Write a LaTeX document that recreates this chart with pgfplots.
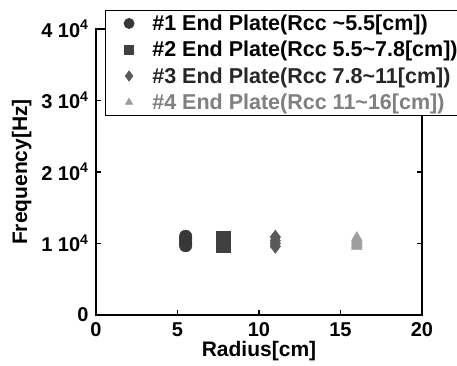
\documentclass[border=0pt]{standalone}
\usepackage{fontspec}
\setmainfont{Liberation Sans}
\usepackage{pgfplots}
\pgfplotsset{compat=1.18}
\definecolor{mkA}{gray}{0.22}
\definecolor{mkB}{gray}{0.25}
\definecolor{mkC}{gray}{0.35}
\definecolor{mkD}{gray}{0.62}
\begin{document}
\begin{tikzpicture}
\begin{axis}[
  scale only axis,
  width=326bp, height=286bp,
  xmin=0, xmax=20, ymin=0, ymax=40000,
  xtick={0,5,10,15,20},
  ytick={0,10000,20000,30000,40000},
  scaled y ticks=false,
  yticklabels={0,{1 10\textsuperscript{4}},{2 10\textsuperscript{4}},{3 10\textsuperscript{4}},{4 10\textsuperscript{4}}},
  xticklabels={0,5,10,15,20},
  tick align=inside,
  major tick length=5bp,
  tick style={black, line width=1.2pt},
  axis line style={black, line width=1.1pt},
  ticklabel style={font=\fontsize{20bp}{22bp}\selectfont\bfseries},
  xticklabel style={yshift=-4bp},
  yticklabel style={xshift=-4bp},
  xlabel={Radius[cm]},
  ylabel={Frequency[Hz]},
  label style={font=\fontsize{21bp}{23bp}\selectfont\bfseries},
  xlabel style={yshift=2bp},
  ylabel style={yshift=3bp},
  legend cell align=left,
  legend image code/.code={
    \path[draw=none,fill=none] (0cm,-1pt) rectangle (1.55cm,1pt);
    \draw[#1, only marks] plot coordinates {(0.8cm,0cm)};
  },
  legend style={at={(axis description cs:0.0276,1.068)}, anchor=north west,
    draw=black, line width=0.8pt, font=\fontsize{21.5bp}{23bp}\selectfont\bfseries,
    row sep=5.2bp, inner xsep=1bp, inner ysep=3bp},
]
\addplot[only marks, mark=*, mark size=6.3bp, color=mkA,
  legend image post style={mark size=5bp}] coordinates {
  (5.5,9700) (5.5,10000) (5.5,10300) (5.5,10700) (5.5,11000)};
\addlegendentry{\textcolor{black}{\#1 End Plate(Rcc \textasciitilde5.5[cm])}}
\addplot[only marks, mark=square*, mark size=7bp, color=mkB,
  legend image post style={mark size=4.5bp}] coordinates {
  (7.8,9700) (7.8,10000) (7.8,10300) (7.8,10700)};
\addlegendentry{\textcolor{black}{\#2 End Plate(Rcc 5.5\textasciitilde7.8[cm])}}
\addplot[only marks, mark=diamond*, mark size=7bp, color=mkC,
  legend image post style={mark size=5bp}] coordinates {
  (11,9600) (11,10000) (11,10400) (11,10900)};
\addlegendentry{\textcolor{black!85}{\#3 End Plate(Rcc 7.8\textasciitilde11[cm])}}
\addplot[only marks, mark=triangle*, mark size=6.3bp, color=mkD,
  legend image post style={mark size=4bp}] coordinates {
  (16,9600) (16,9900) (16,10200) (16,10500) (16,10800)};
\addlegendentry{\textcolor{black!50}{\#4 End Plate(Rcc 11\textasciitilde16[cm])}}
\end{axis}
\pgfresetboundingbox
\path (-96bp,-51bp) rectangle (361bp,315bp);
\end{tikzpicture}
\end{document}
